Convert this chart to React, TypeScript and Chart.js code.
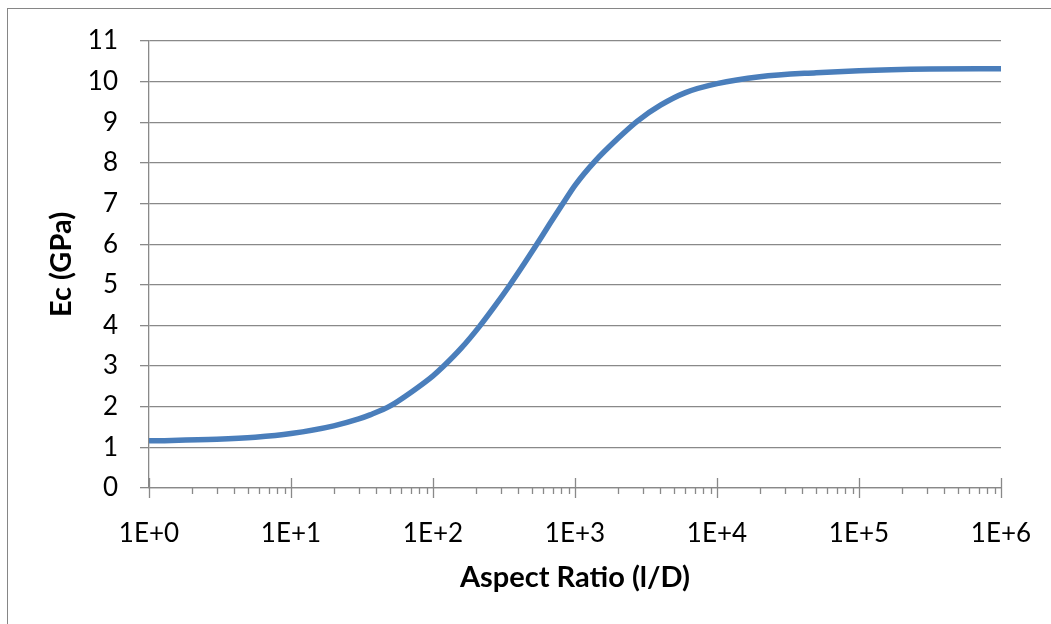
import React, { useEffect, useRef } from "react";
import { Chart, registerables } from "chart.js";

Chart.register(...registerables);

const ASPECT_RATIO = [1, 3, 5.6, 10, 20, 30, 36, 50, 71, 100, 119, 158, 214, 269, 347, 437, 537, 661, 822, 1000, 1380, 2000, 2750, 4000, 6000, 10000, 20000, 50000, 100000, 316000, 1000000];
const EC_GPA = [1.16, 1.2, 1.25, 1.34, 1.53, 1.7, 1.8, 2.02, 2.37, 2.76, 3.0, 3.44, 3.99, 4.45, 4.99, 5.51, 5.99, 6.49, 7.0, 7.45, 8.04, 8.6, 9.03, 9.42, 9.73, 9.95, 10.12, 10.22, 10.27, 10.31, 10.32];
const X_DECADES = [0, 1, 2, 3, 4, 5, 6];
const Y_MIN = 0;
const Y_MAX = 11;
const X_TITLE = "Aspect Ratio (l/D)";
const Y_TITLE = "Ec (GPa)";

const GRID = "#898989";
const LINE = "#4a7ebb";
const FONT = "Lato, 'Open Sans', sans-serif";

export default function App() {
  const ref = useRef<HTMLCanvasElement | null>(null);

  useEffect(() => {
    if (!ref.current) return;
    const xTickPlugin = {
      id: "xTicks",
      afterDraw(chart: any) {
        const sc = chart.scales.x;
        const ctx = chart.ctx;
        const y0 = chart.chartArea.bottom;
        ctx.save();
        ctx.strokeStyle = GRID;
        ctx.lineWidth = 1.3;
        sc.ticks.forEach((t: any) => {
          const px = Math.round(sc.getPixelForValue(t.value)) + 0.5;
          ctx.beginPath();
          if (t.major) {
            ctx.moveTo(px, y0 - 10);
            ctx.lineTo(px, y0 + 10);
          } else {
            ctx.moveTo(px, y0);
            ctx.lineTo(px, y0 + 6);
          }
          ctx.stroke();
        });
        ctx.restore();
      },
    };

    const chart = new Chart(ref.current, {
      type: "line",
      data: {
        datasets: [
          {
            data: ASPECT_RATIO.map((x, i) => ({ x, y: EC_GPA[i] })),
            borderColor: LINE,
            borderWidth: 5.5,
            pointRadius: 0,
            cubicInterpolationMode: "monotone",
            fill: false,
          },
        ],
      },
      options: {
        responsive: false,
        animation: false,
        layout: { padding: { left: 0, right: 50, top: 41, bottom: 0 } },
        plugins: { legend: { display: false }, tooltip: { enabled: false } },
        scales: {
          x: {
            type: "logarithmic",
            min: Math.pow(10, X_DECADES[0]),
            max: Math.pow(10, X_DECADES[X_DECADES.length - 1]),
            afterBuildTicks: (scale: any) => {
              const ticks: any[] = [];
              for (let d = 0; d < X_DECADES.length - 1; d++) {
                for (let k = 1; k <= 9; k++) {
                  ticks.push({ value: k * Math.pow(10, X_DECADES[d]), major: k === 1 });
                }
              }
              ticks.push({ value: Math.pow(10, X_DECADES[X_DECADES.length - 1]), major: true });
              scale.ticks = ticks;
            },
            afterFit: (scale: any) => {
              scale.height = 624 - 488;
              scale.paddingLeft = 0;
              scale.paddingRight = 0;
            },
            grid: { display: true, drawOnChartArea: false, drawTicks: false },
            border: { display: true, color: GRID, width: 1.3 },
            ticks: {
              autoSkip: false,
              maxRotation: 0,
              minRotation: 0,
              padding: 30,
              color: "#000",
              font: { family: FONT, size: 26 },
              callback: (v: any) => {
                const e = Math.log10(Number(v));
                return Math.abs(e - Math.round(e)) < 1e-9 ? "1E+" + Math.round(e) : "";
              },
            },
            title: {
              display: true,
              text: X_TITLE,
              color: "#000",
              font: { family: FONT, size: 29, weight: "bold" },
              padding: { top: 0, bottom: 29 },
            },
          },
          y: {
            min: Y_MIN,
            max: Y_MAX,
            afterFit: (scale: any) => {
              scale.width = 149;
            },
            grid: { color: GRID, lineWidth: 1.3, tickLength: 9, drawTicks: true },
            border: { display: true, color: GRID, width: 1.3 },
            ticks: {
              stepSize: 1,
              padding: 22,
              color: "#000",
              font: { family: FONT, size: 26 },
            },
            title: {
              display: true,
              text: Y_TITLE,
              color: "#000",
              font: { family: FONT, size: 29, weight: "bold" },
              padding: { top: 44, bottom: 0 },
            },
          },
        },
      },
      plugins: [xTickPlugin],
    } as any);
    return () => chart.destroy();
  }, []);

  return (
    <div style={{ position: "absolute", left: 0, top: 0, width: 1051, height: 624, background: "#fff" }}>
      <div
        style={{
          position: "absolute",
          left: 7,
          top: 8,
          width: 1100,
          height: 700,
          borderLeft: "1.5px solid #868686",
          borderTop: "1.5px solid #868686",
        }}
      />
      <canvas ref={ref} width={1051} height={624} style={{ position: "absolute", left: 0, top: 0 }} />
    </div>
  );
}
